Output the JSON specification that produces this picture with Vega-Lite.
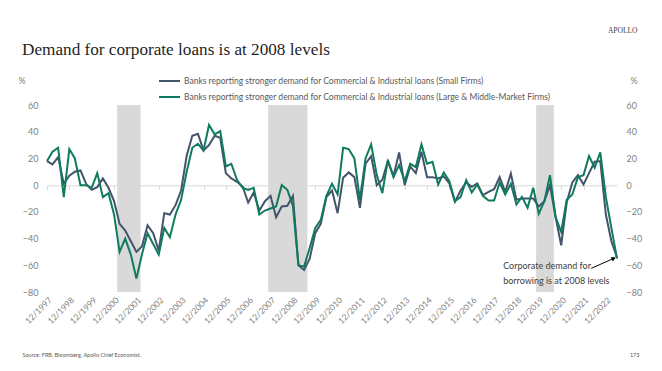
{
  "$schema": "https://vega.github.io/schema/vega-lite/v6.json",
  "width": 570,
  "height": 187,
  "autosize": "none",
  "padding": {"left": 47, "top": 105, "right": 45, "bottom": 79},
  "background": "white",
  "config": {"view": {"stroke": null}, "font": "Lato", "axis": {"grid": false}},
  "title": {
    "text": "Demand for corporate loans is at 2008 levels",
    "anchor": "start",
    "frame": "group",
    "dx": -25,
    "dy": 42,
    "offset": 10,
    "font": "Liberation Serif",
    "fontSize": 17.2,
    "fontWeight": "normal",
    "color": "#1f1f1f"
  },
  "datasets": {
    "loans": [
      {"d": "1997-12-01", "s": 18, "l": 18},
      {"d": "1998-03-01", "s": 15.5, "l": 25},
      {"d": "1998-06-01", "s": 21, "l": 28},
      {"d": "1998-09-01", "s": 1, "l": -9},
      {"d": "1998-12-01", "s": 7, "l": 27},
      {"d": "1999-03-01", "s": 10, "l": 20},
      {"d": "1999-06-01", "s": 11, "l": 0},
      {"d": "1999-09-01", "s": 1, "l": 0},
      {"d": "1999-12-01", "s": -3.5, "l": -2},
      {"d": "2000-03-01", "s": -1.5, "l": 9},
      {"d": "2000-06-01", "s": 5, "l": -9},
      {"d": "2000-09-01", "s": -2, "l": -6},
      {"d": "2000-12-01", "s": -12, "l": -22},
      {"d": "2001-03-01", "s": -29, "l": -50},
      {"d": "2001-06-01", "s": -34, "l": -40},
      {"d": "2001-09-01", "s": -42, "l": -52},
      {"d": "2001-12-01", "s": -50, "l": -70},
      {"d": "2002-03-01", "s": -46, "l": -52},
      {"d": "2002-06-01", "s": -30, "l": -36},
      {"d": "2002-09-01", "s": -36, "l": -44},
      {"d": "2002-12-01", "s": -49, "l": -52},
      {"d": "2003-03-01", "s": -21, "l": -32},
      {"d": "2003-06-01", "s": -22, "l": -39},
      {"d": "2003-09-01", "s": -15, "l": -22},
      {"d": "2003-12-01", "s": -4, "l": -11},
      {"d": "2004-03-01", "s": 22, "l": 10},
      {"d": "2004-06-01", "s": 37, "l": 28},
      {"d": "2004-09-01", "s": 38.5, "l": 31},
      {"d": "2004-12-01", "s": 26, "l": 26},
      {"d": "2005-03-01", "s": 30, "l": 45},
      {"d": "2005-06-01", "s": 37, "l": 38},
      {"d": "2005-09-01", "s": 35.5, "l": 40.5},
      {"d": "2005-12-01", "s": 9, "l": 14},
      {"d": "2006-03-01", "s": 5, "l": 16},
      {"d": "2006-06-01", "s": 2.5, "l": 4},
      {"d": "2006-09-01", "s": -1, "l": -2},
      {"d": "2006-12-01", "s": -13, "l": -3.5},
      {"d": "2007-03-01", "s": -5.5, "l": -2},
      {"d": "2007-06-01", "s": -19, "l": -22},
      {"d": "2007-09-01", "s": -12, "l": -19},
      {"d": "2007-12-01", "s": -8, "l": -17.5},
      {"d": "2008-03-01", "s": -24, "l": -16},
      {"d": "2008-06-01", "s": -16, "l": 0},
      {"d": "2008-09-01", "s": -15.5, "l": -3.5},
      {"d": "2008-12-01", "s": -8, "l": -15.5},
      {"d": "2009-03-01", "s": -60, "l": -60},
      {"d": "2009-06-01", "s": -63.5, "l": -61},
      {"d": "2009-09-01", "s": -55, "l": -47},
      {"d": "2009-12-01", "s": -36, "l": -32},
      {"d": "2010-03-01", "s": -29, "l": -26},
      {"d": "2010-06-01", "s": -9, "l": -8},
      {"d": "2010-09-01", "s": -4, "l": 1},
      {"d": "2010-12-01", "s": -21, "l": -7},
      {"d": "2011-03-01", "s": 5.5, "l": 28},
      {"d": "2011-06-01", "s": 9.5, "l": 27},
      {"d": "2011-09-01", "s": 6, "l": 20},
      {"d": "2011-12-01", "s": -17, "l": -11},
      {"d": "2012-03-01", "s": 16, "l": 20},
      {"d": "2012-06-01", "s": 21.75, "l": 30.5},
      {"d": "2012-09-01", "s": 0, "l": 7.5},
      {"d": "2012-12-01", "s": 4, "l": -6},
      {"d": "2013-03-01", "s": 18, "l": 18.75},
      {"d": "2013-06-01", "s": 6.75, "l": 6},
      {"d": "2013-09-01", "s": 24.5, "l": 15},
      {"d": "2013-12-01", "s": 0, "l": 3},
      {"d": "2014-03-01", "s": 14, "l": 16},
      {"d": "2014-06-01", "s": 9, "l": 13.5},
      {"d": "2014-09-01", "s": 25, "l": 30.5},
      {"d": "2014-12-01", "s": 6, "l": 16},
      {"d": "2015-03-01", "s": 6, "l": 17.5},
      {"d": "2015-06-01", "s": 5, "l": 0.5},
      {"d": "2015-09-01", "s": 6.5, "l": 9.5},
      {"d": "2015-12-01", "s": 1.25, "l": 3},
      {"d": "2016-03-01", "s": -12.5, "l": -12},
      {"d": "2016-06-01", "s": -4, "l": -9},
      {"d": "2016-09-01", "s": 2, "l": 3.75},
      {"d": "2016-12-01", "s": -1.25, "l": -5.5},
      {"d": "2017-03-01", "s": 1.25, "l": 0.5},
      {"d": "2017-06-01", "s": -7.5, "l": -8},
      {"d": "2017-09-01", "s": -5, "l": -11.5},
      {"d": "2017-12-01", "s": -3, "l": -11.5},
      {"d": "2018-03-01", "s": 6, "l": 2},
      {"d": "2018-06-01", "s": -5, "l": -7},
      {"d": "2018-09-01", "s": 8.75, "l": 1},
      {"d": "2018-12-01", "s": -11, "l": -14.5},
      {"d": "2019-03-01", "s": -10, "l": -8.75},
      {"d": "2019-06-01", "s": -10, "l": -17},
      {"d": "2019-09-01", "s": -10, "l": -2},
      {"d": "2019-12-01", "s": -16, "l": -21.5},
      {"d": "2020-03-01", "s": -12, "l": -12},
      {"d": "2020-06-01", "s": 0, "l": 7.5},
      {"d": "2020-09-01", "s": -24, "l": -24},
      {"d": "2020-12-01", "s": -45, "l": -35},
      {"d": "2021-03-01", "s": -13, "l": -11},
      {"d": "2021-06-01", "s": 2, "l": -7},
      {"d": "2021-09-01", "s": 7.5, "l": 6},
      {"d": "2021-12-01", "s": 0.5, "l": 7.5},
      {"d": "2022-03-01", "s": 9, "l": 21.75},
      {"d": "2022-06-01", "s": 17.5, "l": 13},
      {"d": "2022-09-01", "s": 18, "l": 24.5},
      {"d": "2022-12-01", "s": -22, "l": -9},
      {"d": "2023-03-01", "s": -42, "l": -32},
      {"d": "2023-06-01", "s": -54, "l": -55}
    ],
    "recessions": [
      {"start": "2001-01-20", "end": "2002-02-07"},
      {"start": "2007-10-24", "end": "2009-07-26"},
      {"start": "2019-10-19", "end": "2020-08-04"}
    ],
    "note": [
      {"d": "2018-04-28", "v": -57.5, "t": "Corporate demand for\nborrowing is at 2008 levels"}
    ],
    "arrow": [
      {"d1": "2022-04-07", "v1": -62.3, "d2": "2023-04-10", "v2": -54.8}
    ]
  },
  "resolve": {"axis": {"x": "independent", "y": "independent"}},
  "layer": [
    {
      "data": {"name": "recessions"},
      "mark": {"type": "rect", "color": "#d9d9d9"},
      "encoding": {
        "x": {
          "field": "start",
          "type": "temporal",
          "scale": {"nice": false},
          "axis": {
            "orient": "bottom",
            "values": [
              {"year": 1997, "month": 12, "date": 1}, {"year": 1998, "month": 12, "date": 1},
              {"year": 1999, "month": 12, "date": 1}, {"year": 2000, "month": 12, "date": 1},
              {"year": 2001, "month": 12, "date": 1}, {"year": 2002, "month": 12, "date": 1},
              {"year": 2003, "month": 12, "date": 1}, {"year": 2004, "month": 12, "date": 1},
              {"year": 2005, "month": 12, "date": 1}, {"year": 2006, "month": 12, "date": 1},
              {"year": 2007, "month": 12, "date": 1}, {"year": 2008, "month": 12, "date": 1},
              {"year": 2009, "month": 12, "date": 1}, {"year": 2010, "month": 12, "date": 1},
              {"year": 2011, "month": 12, "date": 1}, {"year": 2012, "month": 12, "date": 1},
              {"year": 2013, "month": 12, "date": 1}, {"year": 2014, "month": 12, "date": 1},
              {"year": 2015, "month": 12, "date": 1}, {"year": 2016, "month": 12, "date": 1},
              {"year": 2017, "month": 12, "date": 1}, {"year": 2018, "month": 12, "date": 1},
              {"year": 2019, "month": 12, "date": 1}, {"year": 2020, "month": 12, "date": 1},
              {"year": 2021, "month": 12, "date": 1}, {"year": 2022, "month": 12, "date": 1}
            ],
            "format": "%m/%Y",
            "labelAngle": -45,
            "labelAlign": "right",
            "labelBaseline": "top",
            "labelFont": "Lato",
            "labelFontSize": 8.5,
            "labelColor": "#7f7f7f",
            "labelPadding": 106,
            "labelOverlap": false,
            "labelBound": false,
            "labelFlush": false,
            "offset": -106.7,
            "domainColor": "#d9d9d9",
            "domainWidth": 1,
            "ticks": true,
            "tickColor": "#d9d9d9",
            "tickSize": 4,
            "tickWidth": 1,
            "title": "Source: FRB, Bloomberg, Apollo Chief Economist.",
            "titleX": -25,
            "titleY": 168.7,
            "titleAlign": "left",
            "titleAngle": 0,
            "titleBaseline": "middle",
            "titleFont": "Lato",
            "titleFontSize": 5.5,
            "titleFontWeight": "normal",
            "titleColor": "#595959"
          }
        },
        "x2": {"field": "end"}
      }
    },
    {
      "data": {"name": "loans"},
      "transform": [{"fold": ["s", "l"], "as": ["series", "value"]}],
      "mark": {"type": "line", "strokeWidth": 2},
      "encoding": {
        "x": {
          "field": "d",
          "type": "temporal",
          "axis": {
            "orient": "top",
            "labels": false,
            "ticks": false,
            "domain": false,
            "title": "APOLLO",
            "titleX": 590,
            "titleY": -75,
            "titleAlign": "right",
            "titleAngle": 0,
            "titleBaseline": "middle",
            "titleFont": "Liberation Serif",
            "titleFontSize": 7.5,
            "titleFontWeight": "normal",
            "titleColor": "#404040"
          }
        },
        "y": {
          "field": "value",
          "type": "quantitative",
          "scale": {"domain": [-80, 60], "nice": false, "zero": false},
          "axis": {
            "orient": "left",
            "values": [-80, -60, -40, -20, 0, 20, 40, 60],
            "domain": false,
            "ticks": false,
            "labelFont": "Lato",
            "labelFontSize": 9,
            "labelColor": "#7f7f7f",
            "labelPadding": 9,
            "title": "%",
            "titleAngle": 0,
            "titleX": -25.5,
            "titleY": -25,
            "titleAlign": "center",
            "titleBaseline": "middle",
            "titleFont": "Lato",
            "titleFontSize": 9,
            "titleFontWeight": "normal",
            "titleColor": "#7f7f7f"
          }
        },
        "color": {
          "field": "series",
          "type": "nominal",
          "scale": {"domain": ["s", "l"], "range": ["#44546A", "#0E7B5E"]},
          "legend": {
            "orient": "none",
            "legendX": 111,
            "legendY": -35.5,
            "title": null,
            "direction": "vertical",
            "symbolType": "stroke",
            "symbolSize": 441,
            "symbolStrokeWidth": 2,
            "rowPadding": -3,
            "padding": 0,
            "labelFont": "Lato",
            "labelFontSize": 8.5,
            "labelColor": "#595959",
            "labelOffset": 3,
            "labelLimit": 700,
            "labelExpr": "datum.label == 's' ? 'Banks reporting stronger demand for Commercial & Industrial loans (Small Firms)' : 'Banks reporting stronger demand for Commercial & Industrial loans (Large & Middle-Market Firms)'"
          }
        }
      }
    },
    {
      "data": {"name": "note"},
      "mark": {"type": "text", "align": "left", "baseline": "top", "lineBreak": "\n", "font": "Lato", "fontSize": 9, "lineHeight": 15, "color": "#404040"},
      "encoding": {
        "x": {"field": "d", "type": "temporal", "axis": null},
        "y": {
          "field": "v",
          "type": "quantitative",
          "scale": {"domain": [-80, 60], "nice": false, "zero": false},
          "axis": {
            "orient": "right",
            "values": [-80, -60, -40, -20, 0, 20, 40, 60],
            "domain": false,
            "ticks": false,
            "labelFont": "Lato",
            "labelFontSize": 9,
            "labelColor": "#7f7f7f",
            "labelPadding": 9,
            "title": "%",
            "titleAngle": 0,
            "titleX": 16.5,
            "titleY": -25,
            "titleAlign": "center",
            "titleBaseline": "middle",
            "titleFont": "Lato",
            "titleFontSize": 9,
            "titleFontWeight": "normal",
            "titleColor": "#7f7f7f"
          }
        },
        "text": {"field": "t"}
      }
    },
    {
      "data": {"name": "arrow"},
      "mark": {"type": "rule", "color": "#000000", "strokeWidth": 1},
      "encoding": {
        "x": {"field": "d1", "type": "temporal", "axis": null},
        "x2": {"field": "d2"},
        "y": {
          "field": "v1",
          "type": "quantitative",
          "scale": {"domain": [-80, 60], "nice": false, "zero": false},
          "axis": {
            "orient": "right",
            "labels": false,
            "ticks": false,
            "domain": false,
            "title": "173",
            "titleAngle": 0,
            "titleX": 22,
            "titleY": 249,
            "titleAlign": "right",
            "titleBaseline": "middle",
            "titleFont": "Lato",
            "titleFontSize": 5.5,
            "titleFontWeight": "normal",
            "titleColor": "#595959"
          }
        },
        "y2": {"field": "v2"}
      }
    },
    {
      "data": {"name": "arrow"},
      "mark": {"type": "point", "shape": "triangle-right", "filled": true, "color": "#000000", "size": 25, "angle": -23, "opacity": 1},
      "encoding": {
        "x": {"field": "d2", "type": "temporal", "axis": null},
        "y": {"field": "v2", "type": "quantitative", "scale": {"domain": [-80, 60], "nice": false, "zero": false}, "axis": null}
      }
    }
  ]
}
